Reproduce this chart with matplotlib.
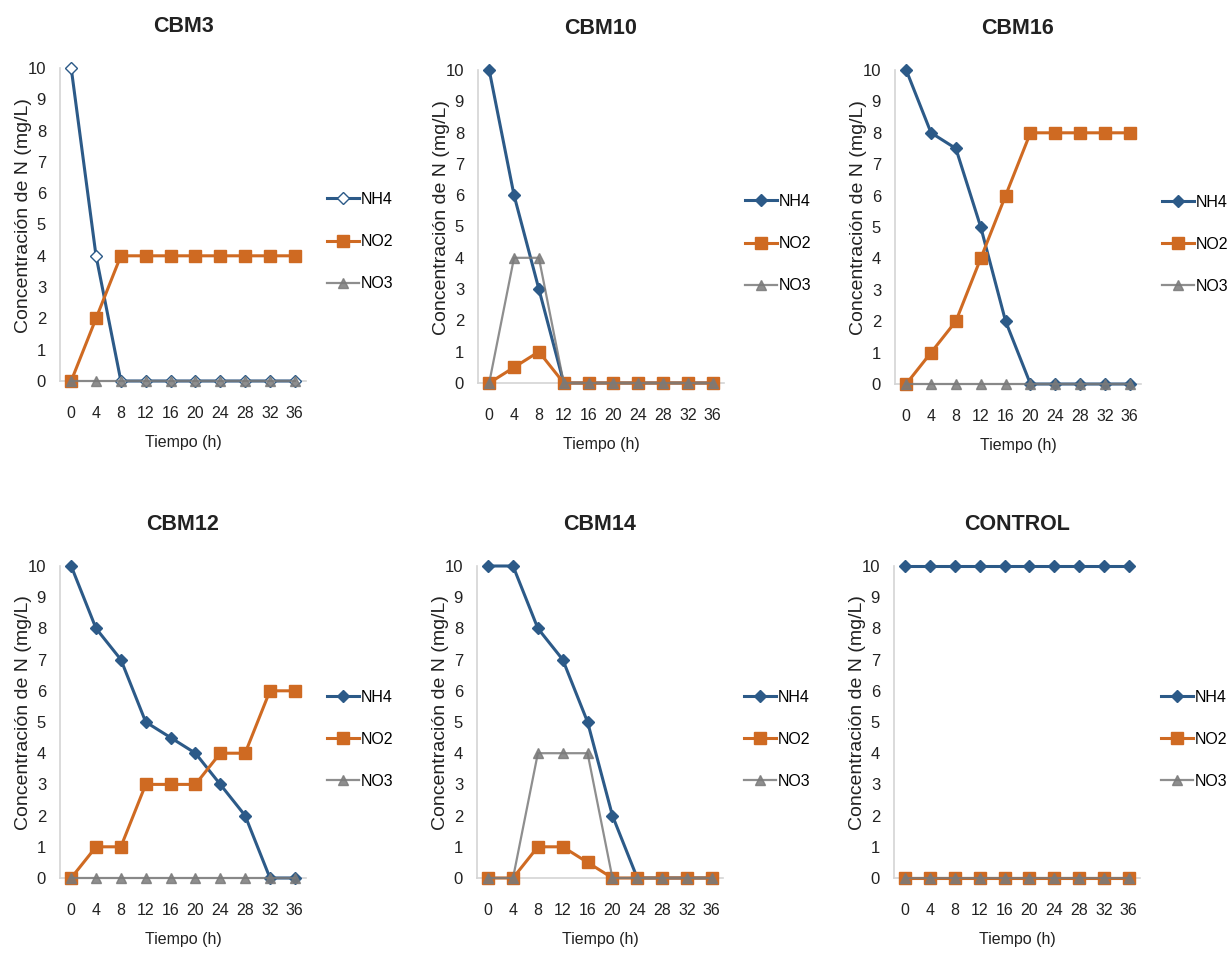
import matplotlib
matplotlib.use('Agg')
import matplotlib.pyplot as plt

tiempo = [0, 4, 8, 12, 16, 20, 24, 28, 32, 36]

titulos = ['CBM3', 'CBM10', 'CBM16', 'CBM12', 'CBM14', 'CONTROL']

nh4 = {
    'CBM3':    [10, 4, 0, 0, 0, 0, 0, 0, 0, 0],
    'CBM10':   [10, 6, 3, 0, 0, 0, 0, 0, 0, 0],
    'CBM16':   [10, 8, 7.5, 5, 2, 0, 0, 0, 0, 0],
    'CBM12':   [10, 8, 7, 5, 4.5, 4, 3, 2, 0, 0],
    'CBM14':   [10, 10, 8, 7, 5, 2, 0, 0, 0, 0],
    'CONTROL': [10, 10, 10, 10, 10, 10, 10, 10, 10, 10],
}
no2 = {
    'CBM3':    [0, 2, 4, 4, 4, 4, 4, 4, 4, 4],
    'CBM10':   [0, 0.5, 1, 0, 0, 0, 0, 0, 0, 0],
    'CBM16':   [0, 1, 2, 4, 6, 8, 8, 8, 8, 8],
    'CBM12':   [0, 1, 1, 3, 3, 3, 4, 4, 6, 6],
    'CBM14':   [0, 0, 1, 1, 0.5, 0, 0, 0, 0, 0],
    'CONTROL': [0, 0, 0, 0, 0, 0, 0, 0, 0, 0],
}
no3 = {
    'CBM3':    [0, 0, 0, 0, 0, 0, 0, 0, 0, 0],
    'CBM10':   [0, 4, 4, 0, 0, 0, 0, 0, 0, 0],
    'CBM16':   [0, 0, 0, 0, 0, 0, 0, 0, 0, 0],
    'CBM12':   [0, 0, 0, 0, 0, 0, 0, 0, 0, 0],
    'CBM14':   [0, 0, 4, 4, 4, 0, 0, 0, 0, 0],
    'CONTROL': [0, 0, 0, 0, 0, 0, 0, 0, 0, 0],
}

plt.rcParams['font.family'] = ['Liberation Sans', 'DejaVu Sans']

c_nh4 = '#2c5a88'
c_no2 = '#cf6a22'
c_no3 = '#7a7a7a'
eje = '#d4d4d4'
texto = '#222222'

W, H = 1228, 957
fig = plt.figure(figsize=(W / 100, H / 100), dpi=100)

# axes boxes in pixels: left, top (value 10), bottom (value 0)
cajas = [
    (60, 68, 381), (478, 70, 383), (895, 70, 384),
    (60, 566, 878), (477, 566, 878), (894, 566, 878),
]
ancho = 246

for nombre, (izq, arriba, abajo) in zip(titulos, cajas):
    ax = fig.add_axes([izq / W, 1 - abajo / H, ancho / W, (abajo - arriba) / H])
    hueco = 'white' if nombre == 'CBM3' else c_nh4
    ax.plot(tiempo, nh4[nombre], color=c_nh4, lw=2.2, marker='D', ms=6,
            mfc=hueco, mec=c_nh4, label='NH4', clip_on=False, zorder=3)
    ax.plot(tiempo, no2[nombre], color=c_no2, lw=2.2, marker='s', ms=8,
            mfc=c_no2, mec=c_no2, label='NO2', clip_on=False, zorder=4)
    ax.plot(tiempo, no3[nombre], color=c_no3, lw=1.6, marker='^', ms=7,
            mfc=c_no3, mec=c_no3, alpha=0.85, label='NO3', clip_on=False, zorder=5)

    ax.set_xlim(-1.8, 37.8)
    ax.set_ylim(0, 10)
    ax.set_xticks(tiempo)
    ax.set_yticks(range(0, 11))
    ax.tick_params(length=0, labelsize=12, colors=texto)
    ax.tick_params(axis='x', pad=18, labelsize=11.5)
    ax.tick_params(axis='y', pad=10)
    for s in ['top', 'right']:
        ax.spines[s].set_visible(False)
    for s in ['left', 'bottom']:
        ax.spines[s].set_color(eje)
        ax.spines[s].set_linewidth(1.2)

    ax.set_title(nombre, fontsize=15.5, fontweight='bold', pad=26, color=texto)
    ax.set_xlabel('Tiempo (h)', fontsize=11.5, labelpad=10, color=texto)
    ax.set_ylabel('Concentración de N (mg/L)', fontsize=14, color=texto)
    ax.yaxis.set_label_coords(-0.115, 0.53)

    ax.legend(loc='center left', bbox_to_anchor=(1.06, 0.445), frameon=False,
              fontsize=11.5, labelspacing=1.7, handlelength=2.0, handletextpad=0.1,
              borderaxespad=0)

fig.savefig('out.png', dpi=100, facecolor='white')
